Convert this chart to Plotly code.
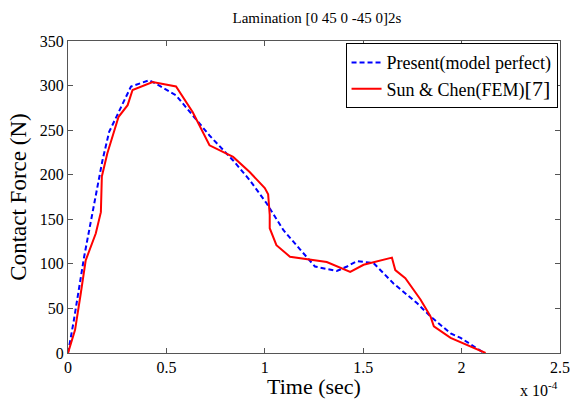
import plotly.graph_objects as go

# Present (model perfect) - blue dashed
present_t = [0, 0.03, 0.082, 0.124, 0.175, 0.209, 0.26, 0.32, 0.413, 0.464, 0.549, 0.634, 0.719, 0.839,
             0.923, 1.009, 1.094, 1.18, 1.255, 1.366, 1.418, 1.467, 1.552, 1.654, 1.773, 1.842, 1.944, 1.995, 2.114]
present_f = [0, 37, 108, 157, 216, 248, 272, 299, 306, 300, 289, 266, 244, 216,
             194, 168, 138, 116, 97, 92, 97, 103, 101, 78, 56, 41, 22, 17, 0]

# Sun & Chen (FEM) - red solid
sun_t = [0, 0.036, 0.065, 0.09, 0.141, 0.167, 0.172, 0.2, 0.257, 0.303, 0.328, 0.43, 0.549, 0.634,
         0.719, 0.839, 0.923, 1.0, 1.017, 1.025, 1.025, 1.059, 1.128, 1.264, 1.315, 1.434, 1.502,
         1.646, 1.663, 1.714, 1.791, 1.842, 1.859, 1.944, 2.029, 2.122]
sun_f = [0, 26, 67, 104, 134, 158, 198, 224, 265, 278, 295, 304, 299, 270,
         233, 220, 203, 185, 178, 155, 140, 121, 108, 104, 102, 91, 99,
         107, 93, 84, 60, 41, 30, 17, 9, 0]

x_ticks = [0, 0.5, 1, 1.5, 2, 2.5]
x_tick_labels = ["0", "0.5", "1", "1.5", "2", "2.5"]
y_ticks = [0, 50, 100, 150, 200, 250, 300, 350]

FONT = "Liberation Serif"

fig = go.Figure()
fig.add_trace(go.Scatter(x=present_t, y=present_f, mode="lines",
                         name="Present(model perfect)",
                         line=dict(color="#0000ff", width=2, dash="5px,3px")))
fig.add_trace(go.Scatter(x=sun_t, y=sun_f, mode="lines",
                         name="Sun & Chen(FEM)<span style='font-size:22px'>[7]</span>",
                         line=dict(color="#ff0000", width=2)))

fig.update_layout(
    width=571, height=399,
    margin=dict(l=68, r=11, t=41, b=46, autoexpand=False),
    paper_bgcolor="white", plot_bgcolor="white",
    font=dict(family=FONT, size=16, color="black"),
    title=dict(text="Lamination [0 45 0 -45 0]2s", x=0.555, xanchor="center",
               y=0.955, yanchor="middle", font=dict(family=FONT, size=15)),
    legend=dict(x=0.995, y=0.993, xanchor="right", yanchor="top",
                bordercolor="black", borderwidth=1, bgcolor="white",
                font=dict(family=FONT, size=18), tracegroupgap=2),
    showlegend=True,
)
fig.update_xaxes(range=[0, 2.5], tickvals=x_ticks, ticktext=x_tick_labels, automargin=False,
                 ticks="inside", ticklen=5, tickcolor="#555", showline=True,
                 linecolor="#555", linewidth=1, mirror="ticks", showgrid=False, zeroline=False,
                 title=dict(text="Time (sec)", font=dict(family=FONT, size=22), standoff=4),
                 tickfont=dict(family=FONT, size=16))
fig.update_yaxes(range=[0, 350], tickvals=y_ticks, automargin=False,
                 ticks="inside", ticklen=5, tickcolor="#555", showline=True,
                 linecolor="#555", linewidth=1, mirror="ticks", showgrid=False, zeroline=False,
                 title=dict(text="Contact Force (N)", font=dict(family=FONT, size=23), standoff=6),
                 tickfont=dict(family=FONT, size=16))
fig.add_annotation(text="x 10<sup>-4</sup>", xref="paper", yref="paper", x=1.0, y=-0.115,
                   xanchor="right", yanchor="middle", showarrow=False,
                   font=dict(family=FONT, size=16))

fig.write_html("out.html")
